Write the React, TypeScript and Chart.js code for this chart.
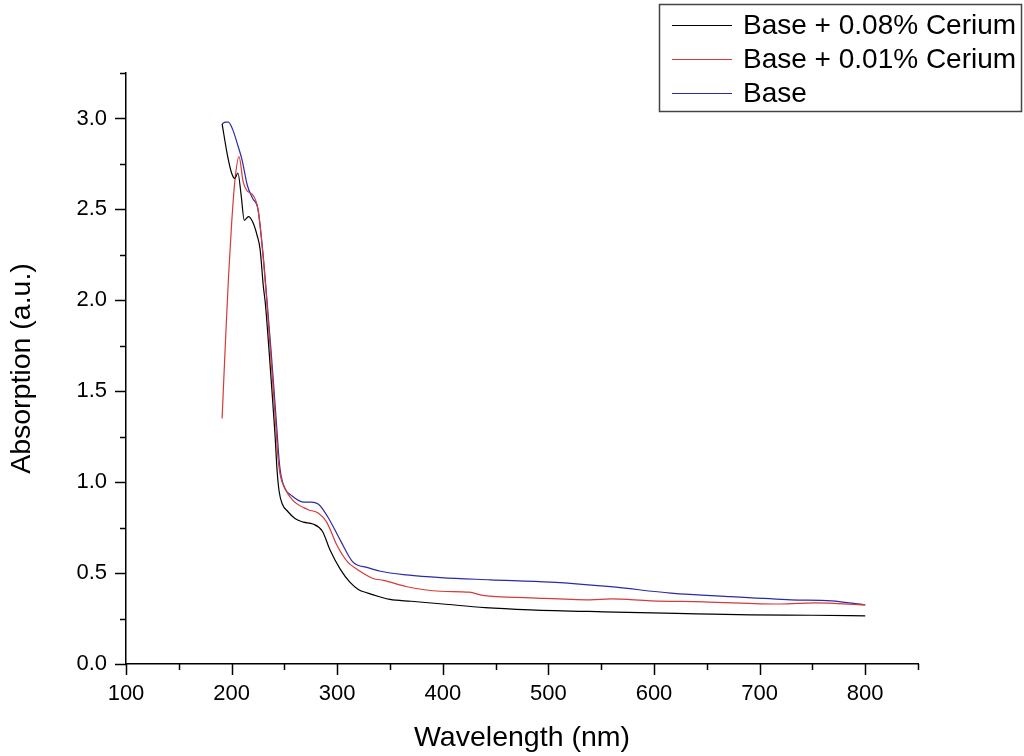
import React, { useEffect, useRef } from "react";
import { Chart, registerables } from "chart.js";

Chart.register(...registerables);

const seriesLabels = ["Base + 0.08% Cerium", "Base + 0.01% Cerium", "Base"];
const seriesColors = ["#000000", "#d63a3a", "#2b2ba6"];

const black08X = [191, 196, 200, 203, 206, 209, 212, 216, 220, 224, 227, 230, 232, 235, 238, 241, 243, 245, 248, 253, 260, 268, 277, 286, 293, 303, 312, 320, 329, 340, 350, 370, 400, 440, 483, 552, 640, 692, 750, 800];
const black08Y = [2.97, 2.80, 2.70, 2.67, 2.70, 2.58, 2.44, 2.46, 2.43, 2.36, 2.28, 2.08, 1.98, 1.76, 1.52, 1.27, 1.07, 0.95, 0.88, 0.84, 0.80, 0.78, 0.77, 0.73, 0.63, 0.52, 0.45, 0.41, 0.39, 0.37, 0.355, 0.345, 0.33, 0.31, 0.298, 0.287, 0.276, 0.27, 0.268, 0.265];

const red01X = [191, 194, 197, 200, 203, 207, 211, 215, 220, 225, 230, 233, 236, 239, 242, 244, 246, 250, 258, 272, 282, 290, 300, 310, 319, 334, 344, 366, 398, 425, 438, 483, 540, 559, 597, 647, 720, 752, 800];
const red01Y = [1.35, 1.75, 2.12, 2.42, 2.65, 2.79, 2.65, 2.60, 2.58, 2.50, 2.23, 2.02, 1.78, 1.55, 1.30, 1.13, 1.04, 0.97, 0.90, 0.85, 0.83, 0.78, 0.65, 0.56, 0.52, 0.47, 0.46, 0.425, 0.40, 0.395, 0.377, 0.364, 0.353, 0.358, 0.347, 0.342, 0.33, 0.336, 0.325];

const baseX = [191, 194, 197, 201, 206, 210, 215, 220, 225, 230, 233.5, 237, 240, 243, 245, 247, 251, 256, 268, 275, 282, 291, 303, 315, 329, 341, 366, 398, 445, 502, 559, 616, 673, 730, 768, 800];
const baseY = [2.97, 2.98, 2.98, 2.94, 2.85, 2.77, 2.63, 2.56, 2.50, 2.24, 2.0, 1.75, 1.52, 1.28, 1.12, 1.03, 0.96, 0.93, 0.89, 0.89, 0.88, 0.81, 0.68, 0.56, 0.53, 0.51, 0.49, 0.475, 0.463, 0.45, 0.425, 0.39, 0.37, 0.353, 0.347, 0.325];

const xMajorTicks = [100, 200, 300, 400, 500, 600, 700, 800];
const xMinorTicks = [150, 250, 350, 450, 550, 650, 750, 850];
const yMajorTicks = [0, 0.5, 1.0, 1.5, 2.0, 2.5, 3.0];
const yMinorTicks = [0.25, 0.75, 1.25, 1.75, 2.25, 2.75, 3.25];

const xTitle = "Wavelength (nm)";
const yTitle = "Absorption (a.u.)";

const FONT = "'Liberation Sans', Arial, sans-serif";

const toPoints = (xs: number[], ys: number[]) => xs.map((x, i) => ({ x, y: ys[i] }));

const decorPlugin = {
  id: "decor",
  afterDraw(chart: any) {
    const ctx = chart.ctx;
    const xs = chart.scales.x;
    const ys = chart.scales.y;
    const area = chart.chartArea;
    ctx.save();
    ctx.strokeStyle = "#000";
    ctx.lineWidth = 1.5;
    const seg = (x1: number, y1: number, x2: number, y2: number) => {
      ctx.beginPath();
      ctx.moveTo(x1, y1);
      ctx.lineTo(x2, y2);
      ctx.stroke();
    };
    xMajorTicks.forEach((v) => {
      const p = Math.round(xs.getPixelForValue(v)) + 0.5;
      seg(p, area.bottom, p, area.bottom + 11);
    });
    xMinorTicks.forEach((v) => {
      const p = Math.round(xs.getPixelForValue(v)) + 0.5;
      seg(p, area.bottom, p, area.bottom + 6);
    });
    yMajorTicks.forEach((v) => {
      const p = Math.round(ys.getPixelForValue(v)) + 0.5;
      seg(area.left - 11, p, area.left, p);
    });
    yMinorTicks.forEach((v) => {
      const p = Math.round(ys.getPixelForValue(v)) + 0.5;
      seg(area.left - 6, p, area.left, p);
    });

    // legend
    ctx.strokeStyle = "#444";
    ctx.lineWidth = 1.5;
    ctx.strokeRect(659.5, 4.5, 362, 107);
    ctx.font = `28px ${FONT}`;
    ctx.textBaseline = "middle";
    ctx.textAlign = "left";
    seriesLabels.forEach((label, i) => {
      const yy = 25 + i * 34;
      ctx.strokeStyle = seriesColors[i];
      ctx.lineWidth = 1;
      seg(672, yy + 0.5, 732, yy + 0.5);
      ctx.fillStyle = "#000";
      ctx.fillText(label, 743, yy + 1);
    });
    ctx.restore();
  },
};

export default function App() {
  const ref = useRef<HTMLCanvasElement | null>(null);
  useEffect(() => {
    if (!ref.current) return;
    const datasets = [
      { xs: black08X, ys: black08Y },
      { xs: red01X, ys: red01Y },
      { xs: baseX, ys: baseY },
    ].map((s, i) => ({
      label: seriesLabels[i],
      data: toPoints(s.xs, s.ys),
      borderColor: seriesColors[i],
      backgroundColor: seriesColors[i],
      borderWidth: 1.2,
      pointRadius: 0,
      cubicInterpolationMode: "monotone" as const,
      fill: false,
    }));
    const chart = new Chart(ref.current, {
      type: "line",
      data: { datasets },
      plugins: [decorPlugin],
      options: {
        animation: false,
        responsive: false,
        devicePixelRatio: 1,
        layout: { padding: { top: 73, right: 106, left: 0, bottom: 0 } },
        plugins: { legend: { display: false }, tooltip: { enabled: false } },
        scales: {
          x: {
            type: "linear",
            min: 100,
            max: 850,
            grid: { display: false, drawTicks: false },
            border: { display: true, color: "#000", width: 1.5 },
            afterBuildTicks: (scale: any) => {
              scale.ticks = xMajorTicks.map((v) => ({ value: v }));
            },
            afterFit: (scale: any) => {
              scale.height = 92;
            },
            ticks: {
              color: "#000",
              padding: 17,
              maxRotation: 0,
              autoSkip: false,
              font: { family: FONT, size: 22 },
              callback: (v: any) => String(v),
            },
            title: {
              display: true,
              text: xTitle,
              color: "#000",
              font: { family: FONT, size: 28.5, lineHeight: 1.2 },
              padding: { top: 4, bottom: 1 },
            },
          },
          y: {
            type: "linear",
            min: 0,
            max: 3.25,
            grid: { display: false, drawTicks: false },
            border: { display: true, color: "#000", width: 1.5 },
            afterBuildTicks: (scale: any) => {
              scale.ticks = yMajorTicks.map((v) => ({ value: v }));
            },
            afterFit: (scale: any) => {
              scale.width = 126;
            },
            ticks: {
              color: "#000",
              padding: 19,
              autoSkip: false,
              font: { family: FONT, size: 22 },
              callback: (v: any) => Number(v).toFixed(1),
            },
            title: {
              display: true,
              text: yTitle,
              color: "#000",
              font: { family: FONT, size: 28.5, lineHeight: 1.2 },
              padding: { top: 5, bottom: 4 },
            },
          },
        },
      },
    });
    return () => chart.destroy();
  }, []);
  return (
    <div style={{ position: "fixed", left: 0, top: 0, width: 1024, height: 756, background: "#fff" }}>
      <canvas ref={ref} width={1024} height={756} style={{ width: 1024, height: 756, display: "block" }} />
    </div>
  );
}
